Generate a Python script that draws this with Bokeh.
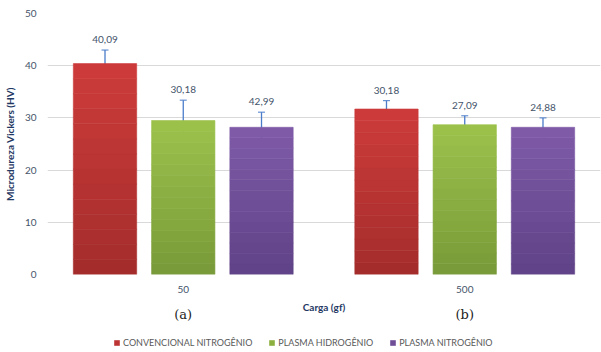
from bokeh.plotting import figure
from bokeh.models import (ColumnDataSource, FactorRange, Whisker, Legend, LegendItem,
                          CategoricalAxis, FixedTicker, Range1d)
from bokeh.layouts import column
from bokeh.core.properties import value
from bokeh.transform import dodge
from bokeh.embed import file_html
from bokeh.resources import INLINE

cargas = ["50", "500"]
panel_tags = ["(a)", "(b)"]
series = ["CONVENCIONAL NITROGÊNIO", "PLASMA HIDROGÊNIO", "PLASMA NITROGÊNIO"]
conv = [40.4, 31.7]
ph = [29.5, 28.7]
pn = [28.2, 28.2]
conv_err = [2.6, 1.6]
ph_err = [3.9, 1.7]
pn_err = [2.9, 1.8]
conv_lbl = ["40,09", "30,18"]
ph_lbl = ["30,18", "27,09"]
pn_lbl = ["42,99", "24,88"]

colors = ["#BC3434", "#8CB040", "#6F4E98"]
top_colors = ["#CD3C3B", "#9DC24C", "#7F5BA8"]
bottom_colors = ["#A32C2B", "#789A38", "#5F4287"]
offsets = [-0.278, 0.0, 0.278]
vals = [conv, ph, pn]
errs = [conv_err, ph_err, pn_err]
lbls = [conv_lbl, ph_lbl, pn_lbl]

FONT = "Lato"
TXT = "#44546A"
ERR = "#4A7CC9"
NBANDS = 14


def hex2rgb(h):
    return [int(h[i:i + 2], 16) for i in (1, 3, 5)]


def mix(c0, c1, t):
    a, b = hex2rgb(c0), hex2rgb(c1)
    return "#%02x%02x%02x" % tuple(round(x + (y - x) * t) for x, y in zip(a, b))


xr = FactorRange(*cargas, range_padding=-0.0177, range_padding_units="absolute")
p = figure(width=601, height=328, x_range=xr,
           y_range=(0, 50), output_backend="svg", toolbar_location=None,
           min_border_left=42, min_border_right=1, min_border_top=13, min_border_bottom=54)
p.outline_line_color = None
p.extra_x_ranges = {"tags": FactorRange(*panel_tags, range_padding=-0.0177,
                                        range_padding_units="absolute")}

for name, v, e, l, ct, cb, off in zip(series, vals, errs, lbls, top_colors, bottom_colors, offsets):
    # bars with vertical gradient (bands are fractions of each bar's own value)
    bx, bb, bt, bc = [], [], [], []
    for cat, val in zip(cargas, v):
        for k in range(NBANDS):
            bx.append(cat)
            bb.append(val * k / NBANDS)
            bt.append(val * (k + 1) / NBANDS)
            bc.append(mix(cb, ct, (k + 0.5) / NBANDS))
    bsrc = ColumnDataSource(dict(carga=bx, b=bb, t=bt, c=bc))
    p.vbar(x=dodge("carga", off, range=p.x_range), bottom="b", top="t", width=0.225,
           source=bsrc, fill_color="c", line_color="c", line_width=0.6)

    src = ColumnDataSource(dict(carga=cargas, v=v,
                                up=[a + b for a, b in zip(v, e)],
                                lo=[a - b for a, b in zip(v, e)],
                                lbl=l))
    w = Whisker(base=dodge("carga", off, range=p.x_range), upper="up", lower="lo",
                source=src, line_color=ERR, line_width=1.3)
    w.upper_head.size = 7
    w.lower_head.size = 7
    w.upper_head.line_color = ERR
    w.lower_head.line_color = ERR
    p.add_layout(w)
    p.text(x=dodge("carga", off, range=p.x_range), y="up", text="lbl", source=src,
           text_align="center", text_baseline="bottom", y_offset=-7,
           text_font=value(FONT), text_font_size="10px", text_color=TXT)

# y axis
p.yaxis.ticker = FixedTicker(ticks=[0, 10, 20, 30, 40, 50])
p.yaxis.axis_line_color = None
p.yaxis.major_tick_line_color = None
p.yaxis.minor_tick_line_color = None
p.yaxis.major_label_text_font = FONT
p.yaxis.major_label_text_font_size = "10px"
p.yaxis.major_label_text_color = TXT
p.yaxis.major_label_standoff = 5
p.yaxis.axis_label = "Microdureza Vickers (HV)"
p.yaxis.axis_label_text_font = FONT
p.yaxis.axis_label_text_font_size = "10px"
p.yaxis.axis_label_text_font_style = "bold"
p.yaxis.axis_label_text_color = "#1F3864"
p.yaxis.axis_label_standoff = 6

p.ygrid.grid_line_color = "#D9D9D9"
p.xgrid.grid_line_color = None

# x axis
xa = p.xaxis[0]
xa.axis_line_color = None
xa.major_tick_line_color = None
xa.major_label_text_font = FONT
xa.major_label_text_font_size = "10px"
xa.major_label_text_color = TXT
xa.major_label_standoff = 5
xa.axis_label = "Carga (gf)"
xa.axis_label_text_font = FONT
xa.axis_label_text_font_size = "10px"
xa.axis_label_text_font_style = "bold"
xa.axis_label_text_color = "#1F3864"
xa.axis_label_standoff = 5

xa2 = CategoricalAxis(x_range_name="tags")
xa2.axis_line_color = None
xa2.major_tick_line_color = None
xa2.major_label_text_font = "DejaVu Serif"
xa2.major_label_text_font_size = "13px"
xa2.major_label_text_color = "#222222"
xa2.major_label_standoff = -15
p.add_layout(xa2, "below")

# legend strip
lg = figure(width=601, height=24, x_range=Range1d(0, 1), y_range=Range1d(0, 1),
            output_backend="svg", toolbar_location=None,
            min_border=0, min_border_left=0, min_border_right=0)
lg.axis.visible = False
lg.grid.visible = False
lg.outline_line_color = None
items = []
nan = float("nan")
for name, c in zip(series, colors):
    r = lg.quad(left=[nan], right=[nan], top=[nan], bottom=[nan], fill_color=c, line_color=None)
    items.append(LegendItem(label=name, renderers=[r]))
legend = Legend(items=items, orientation="horizontal", location=(66, 4),
                label_text_font=FONT, label_text_font_size="9px", label_text_color="#595959",
                glyph_width=7, glyph_height=7, label_standoff=3, spacing=16,
                border_line_color=None, background_fill_alpha=0, padding=0, margin=0)
lg.add_layout(legend)

open("out.html", "w").write(file_html(column(p, lg, spacing=0), INLINE))
